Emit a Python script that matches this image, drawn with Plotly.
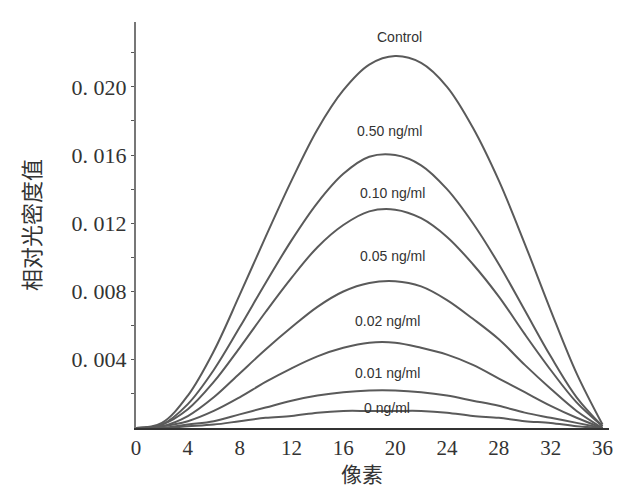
import plotly.graph_objects as go

x_px = [0, 2, 4, 6, 8, 10, 12, 14, 16, 18, 20, 22, 24, 26, 28, 30, 32, 34, 36]

series_names = ["Control", "0.50 ng/ml", "0.10 ng/ml", "0.05 ng/ml", "0.02 ng/ml", "0.01 ng/ml", "0 ng/ml"]

s1 = [0, 0.0003, 0.0019, 0.0045, 0.0078, 0.0112, 0.0145, 0.0175, 0.0198, 0.0213, 0.0218, 0.0214, 0.0200, 0.0176, 0.0145, 0.0108, 0.0069, 0.0032, 0.0002]
s2 = [0, 0.0002, 0.0014, 0.0034, 0.0059, 0.0085, 0.0110, 0.0132, 0.0149, 0.0159, 0.0160, 0.0154, 0.0140, 0.0120, 0.0096, 0.0069, 0.0042, 0.0018, 0.0001]
s3 = [0, 0.0002, 0.0011, 0.0027, 0.0047, 0.0068, 0.0088, 0.0106, 0.0119, 0.0127, 0.0128, 0.0123, 0.0112, 0.0096, 0.0077, 0.0055, 0.0034, 0.0015, 0.0001]
s4 = [0, 0.0001, 0.0007, 0.0018, 0.0032, 0.0046, 0.0059, 0.0071, 0.0080, 0.0085, 0.0086, 0.0083, 0.0075, 0.0064, 0.0052, 0.0037, 0.0023, 0.0010, 0]
s5 = [0, 0.0001, 0.0004, 0.0010, 0.0018, 0.0027, 0.0035, 0.0042, 0.0047, 0.0050, 0.0050, 0.0047, 0.0043, 0.0037, 0.0029, 0.0021, 0.0013, 0.0006, 0]
s6 = [0, 0.0000, 0.0002, 0.0004, 0.0008, 0.0012, 0.0016, 0.0019, 0.0021, 0.0022, 0.0022, 0.0021, 0.0019, 0.0016, 0.0013, 0.0009, 0.0006, 0.0003, 0]
s7 = [0, 0.0000, 0.0001, 0.0002, 0.0004, 0.0006, 0.0007, 0.0009, 0.0010, 0.0010, 0.0010, 0.0010, 0.0009, 0.0007, 0.0006, 0.0004, 0.0003, 0.0001, 0]
all_series = [s1, s2, s3, s4, s5, s6, s7]

label_x = [20.3, 19.6, 19.8, 19.8, 19.4, 19.4, 19.4]
label_y = [0.0229, 0.0174, 0.0138, 0.0101, 0.0063, 0.0032, 0.0012]

x_ticks = [0, 4, 8, 12, 16, 20, 24, 28, 32, 36]
y_ticks = [0.004, 0.008, 0.012, 0.016, 0.020]
y_ticktext = ["0. 004", "0. 008", "0. 012", "0. 016", "0. 020"]

fig = go.Figure()
for name, ys in zip(series_names, all_series):
    fig.add_trace(go.Scatter(x=x_px, y=ys, mode="lines", name=name,
                             line=dict(color="#5a5a5a", width=2, shape="spline", smoothing=1.0)))

for name, lx, ly in zip(series_names, label_x, label_y):
    fig.add_annotation(x=lx, y=ly, text=name, showarrow=False,
                       font=dict(family="Liberation Sans Narrow, Liberation Sans, Arial", size=14, color="#333333"))

fig.add_annotation(xref="paper", yref="paper", x=-0.224, y=0.50, xanchor="center", yanchor="middle",
                   text="相对光密度值", textangle=-90, showarrow=False,
                   font=dict(family="Noto Sans CJK SC", size=22, color="#333333"))
fig.add_annotation(xref="paper", yref="paper", x=0.478, y=-0.112, xanchor="center", yanchor="middle",
                   text="像素", showarrow=False,
                   font=dict(family="Noto Sans CJK SC", size=21, color="#333333"))

fig.update_layout(
    width=636, height=492,
    margin=dict(l=136, r=27, t=22, b=64),
    paper_bgcolor="white", plot_bgcolor="white",
    showlegend=False,
)
fig.update_xaxes(range=[0, 36.5], tickvals=x_ticks, showgrid=False, zeroline=False,
                 showline=True, linecolor="#333333", linewidth=2, ticks="",
                 tickfont=dict(family="Liberation Serif", size=21, color="#333333"))
fig.update_yaxes(range=[0, 0.0238], tickvals=y_ticks, ticktext=y_ticktext, showgrid=False, zeroline=False,
                 showline=True, linecolor="#777777", linewidth=2, ticks="outside", ticklen=3,
                 tickcolor="#555555",
                 minor=dict(tickvals=[0.002, 0.006, 0.010, 0.014, 0.018, 0.022], ticks="outside", ticklen=3, tickcolor="#555555"),
                 tickfont=dict(family="Liberation Serif", size=22, color="#333333"))

fig.write_html("out.html")
